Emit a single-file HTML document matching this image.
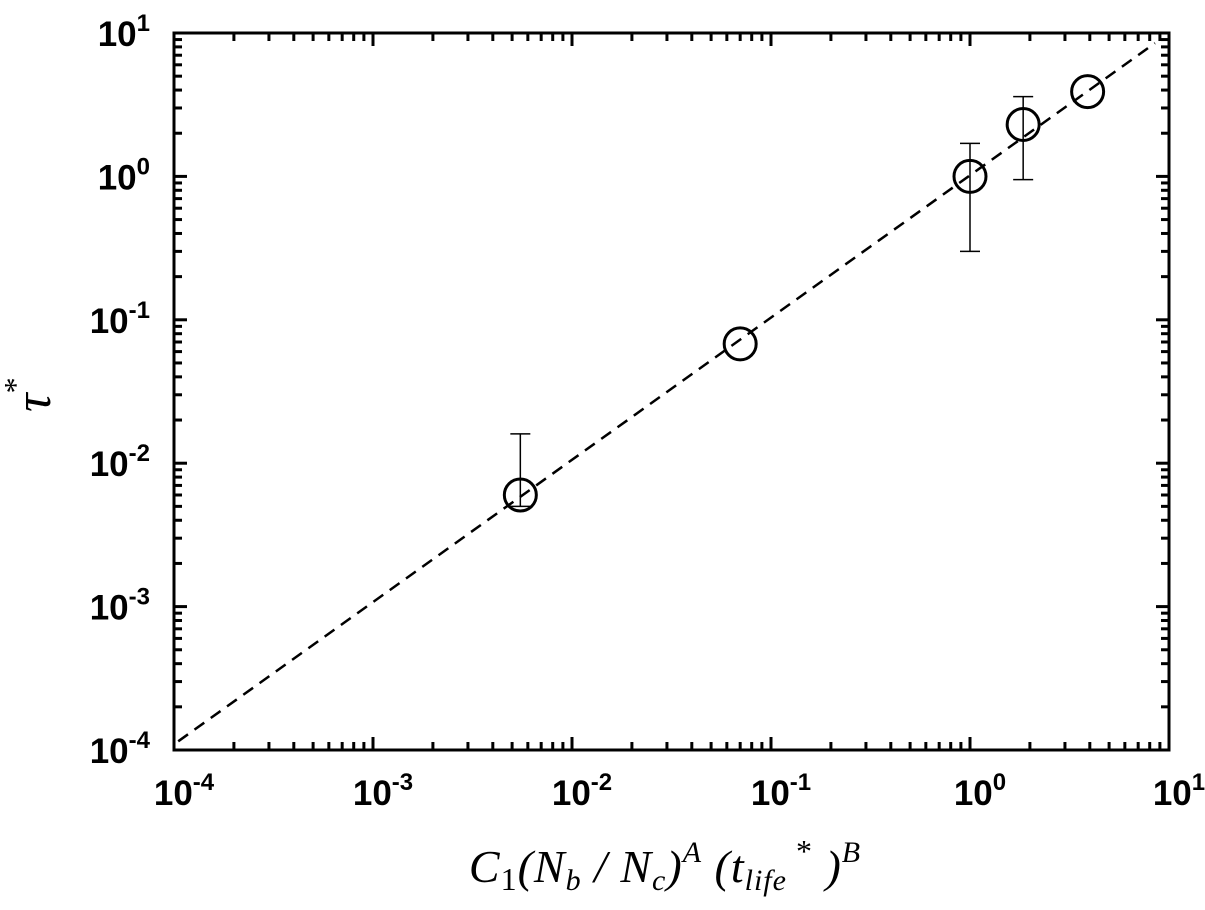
<!DOCTYPE html>
<html><head><meta charset="utf-8"><style>
html,body{margin:0;padding:0;background:#fff;width:1205px;height:910px;overflow:hidden}
svg{display:block}
.tl{font-family:"Liberation Sans",sans-serif;font-weight:bold;font-size:35px;fill:#000}
</style></head><body>
<svg id="chart" width="1205" height="910" xmlns="http://www.w3.org/2000/svg">
<g id="axes"></g>
<g id="marks"></g>
<text x="665" y="882" text-anchor="middle" font-family="Liberation Serif,serif" font-style="italic" font-size="46" letter-spacing="1">C<tspan font-style="normal" font-size="32" dy="8">1</tspan><tspan dy="-8">(N</tspan><tspan font-size="30" dy="8">b</tspan><tspan dy="-8"> / N</tspan><tspan font-size="30" dy="8">c</tspan><tspan dy="-8">)</tspan><tspan font-size="30" dy="-20">A</tspan><tspan dy="20"> (t</tspan><tspan font-size="30" dy="8">life</tspan><tspan font-style="normal" font-size="32" dy="-28"> *</tspan><tspan dy="20"> )</tspan><tspan font-size="30" dy="-20">B</tspan></text>
<text transform="translate(50,412) rotate(-90)" font-family="Liberation Serif,serif" font-style="italic" font-size="52">τ<tspan font-style="normal" font-size="32" dy="-24">*</tspan></text>
</svg>
<script>
const xs = [0.0055, 0.07, 1.0, 1.85, 3.9];
const ys = [0.006, 0.068, 1.0, 2.3, 3.9];
const errLow = [0.005, null, 0.3, 0.95, null];
const errHigh = [0.016, null, 1.7, 3.6, null];
const fitLine = [[0.000105, 0.000115], [8.5, 8.5]];
const decades = [-4, -3, -2, -1, 0, 1];

const L=174,R=1169,T=33,B=750;
const xS=v=>L+(Math.log10(v)+4)/5*(R-L);
const yS=v=>B-(Math.log10(v)+4)/5*(B-T);
const NS="http://www.w3.org/2000/svg";
function mk(tag,attrs,parent){const e=document.createElementNS(NS,tag);for(const k in attrs)e.setAttribute(k,attrs[k]);parent.appendChild(e);return e;}
const axes=document.getElementById('axes'), marks=document.getElementById('marks');

const frame=mk('rect',{x:L,y:T,width:R-L,height:B-T,fill:'none',stroke:'#000','stroke-width':3},axes);



decades.forEach((d,i)=>{
  for(let m=1;m<=9;m++){
    if(i===decades.length-1 && m>1) break;
    const v=m*Math.pow(10,d);
    const len=m===1?13:8;
    const x=xS(v), y=yS(v);
    const tb=mk('line',{x1:x,y1:B,x2:x,y2:B-len,stroke:'#000','stroke-width':3},axes);
    
    
    const tt=mk('line',{x1:x,y1:T,x2:x,y2:T+len,stroke:'#000','stroke-width':3},axes);
    
    
    const tl=mk('line',{x1:L,y1:y,x2:L+len,y2:y,stroke:'#000','stroke-width':3},axes);
    
    
    const tr=mk('line',{x1:R,y1:y,x2:R-len,y2:y,stroke:'#000','stroke-width':3},axes);
    
    
  }
  const v=Math.pow(10,d);
  const xl=mk('text',{x:xS(v)+10,y:B+55,'text-anchor':'middle','class':'tl'},axes);
  xl.innerHTML='10<tspan font-size="24" dy="-15">'+d+'</tspan>';
  
  
  const yl=mk('text',{x:150,y:yS(v)+13,'text-anchor':'end','class':'tl'},axes);
  yl.innerHTML='10<tspan font-size="24" dy="-15">'+d+'</tspan>';
  
  
});

const fit=mk('line',{x1:xS(fitLine[0][0]),y1:yS(fitLine[0][1]),x2:xS(fitLine[1][0]),y2:yS(fitLine[1][1]),stroke:'#000','stroke-width':2.5,'stroke-dasharray':'12,8'},marks);



xs.forEach((xv,i)=>{
  const cx=xS(xv), cy=yS(ys[i]);
  if(errHigh[i]!==null){
    const e=mk('g',{},marks);
    
    
    const yh=yS(errHigh[i]), yl=yS(errLow[i]);
    mk('line',{x1:cx,y1:yh,x2:cx,y2:yl,stroke:'#000','stroke-width':1.5},e);
    mk('line',{x1:cx-10,y1:yh,x2:cx+10,y2:yh,stroke:'#000','stroke-width':1.5},e);
    mk('line',{x1:cx-10,y1:yl,x2:cx+10,y2:yl,stroke:'#000','stroke-width':1.5},e);
  }
  const c=mk('circle',{cx:cx,cy:cy,r:16,fill:'none',stroke:'#000','stroke-width':3},marks);
  
  
});
</script>
</body></html>
